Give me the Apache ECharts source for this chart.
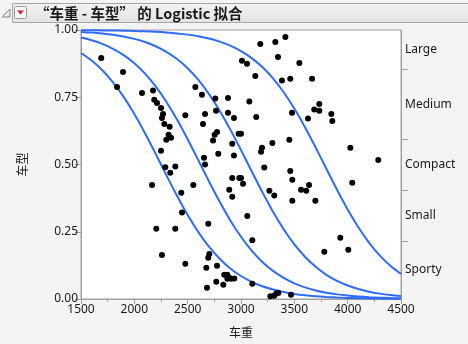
<!DOCTYPE html>
<html><head><meta charset="utf-8">
<script src="https://cdn.jsdelivr.net/npm/echarts@6/dist/echarts.min.js"></script>
<style>html,body{margin:0;padding:0;background:#f4f4f4;}#c{width:468px;height:344px;}</style>
</head><body><div id="c"></div>
<script>
const titleText = '\u201c车重 - 车型\u201d 的 Logistic 拟合';
const xName = '车重';
const yName = '车型';
const xTicks = [1500, 2000, 2500, 3000, 3500, 4000, 4500];
const yTicks = [0, 0.25, 0.5, 0.75, 1];
const categories = ['Sporty', 'Small', 'Compact', 'Medium', 'Large'];
const cumBounds = [0, 0.2165, 0.406, 0.595, 0.854, 1];

const curveX = [1500,1600,1700,1800,1900,2000,2100,2200,2300,2400,2500,2600,2700,2800,2900,3000,3100,3200,3300,3400,3500,3600,3700,3800,3900,4000,4100,4200,4300,4400,4500];
const curve1 = [0.9145,0.8864,0.8504,0.8057,0.7514,0.6878,0.6163,0.5394,0.4606,0.3837,0.3122,0.2486,0.1943,0.1496,0.1136,0.0855,0.0638,0.0473,0.0350,0.0257,0.0189,0.0138,0.0101,0.0074,0.0054,0.0040,0.0029,0.0021,0.0015,0.0011,0.0008];
const curve2 = [0.9718,0.9617,0.9482,0.9302,0.9068,0.8764,0.8379,0.7903,0.7332,0.6671,0.5936,0.5157,0.4371,0.3615,0.2921,0.2313,0.1799,0.1379,0.1044,0.0784,0.0583,0.0432,0.0319,0.0235,0.0172,0.0126,0.0092,0.0067,0.0049,0.0036,0.0026];
const curve3 = [0.9930,0.9904,0.9869,0.9821,0.9757,0.9669,0.9552,0.9395,0.9189,0.8920,0.8576,0.8144,0.7618,0.6999,0.6297,0.5535,0.4748,0.3972,0.3245,0.2594,0.2034,0.1570,0.1195,0.0900,0.0673,0.0500,0.0369,0.0272,0.0200,0.0146,0.0107];
const curve4 = [0.9993,0.9990,0.9986,0.9981,0.9974,0.9964,0.9951,0.9933,0.9908,0.9874,0.9828,0.9765,0.9681,0.9568,0.9417,0.9216,0.8956,0.8621,0.8201,0.7687,0.7079,0.6385,0.5629,0.4843,0.4064,0.3329,0.2668,0.2097,0.1621,0.1236,0.0932];

const points = [
[1690,0.896],[1894,0.844],[1838,0.788],[2072,0.766],[2175,0.775],[2187,0.741],[2213,0.729],[2250,0.710],[2269,0.688],[2259,0.673],
[2281,0.651],[2331,0.640],[2321,0.611],[2344,0.599],[2300,0.592],[2250,0.551],[2290,0.490],[2384,0.493],[2478,0.683],[2572,0.788],
[2634,0.759],[2759,0.745],[2878,0.747],[2663,0.688],[2766,0.700],[2878,0.692],[2934,0.673],[2644,0.651],[2775,0.621],[2753,0.611],
[2738,0.589],[2978,0.614],[3000,0.614],[2918,0.577],[2787,0.540],[2934,0.533],[2653,0.525],[2663,0.500],[3009,0.886],[3056,0.875],
[3181,0.948],[3322,0.955],[3416,0.974],[3347,0.900],[3547,0.877],[3134,0.829],[3384,0.812],[3462,0.819],[3666,0.819],[3078,0.734],
[3143,0.677],[3478,0.692],[3628,0.671],[3687,0.704],[3734,0.725],[3734,0.700],[3847,0.688],[3856,0.662],[3294,0.580],[3453,0.592],
[3197,0.562],[3188,0.547],[4025,0.562],[4287,0.517],[3218,0.489],[2337,0.469],[2166,0.424],[2440,0.395],[2553,0.424],[2447,0.322],
[2206,0.261],[2384,0.261],[2693,0.280],[2259,0.164],[2478,0.131],[2703,0.167],[2693,0.153],[2775,0.124],[2675,0.116],[2843,0.090],
[2872,0.090],[2890,0.079],[2872,0.075],[2909,0.075],[2937,0.076],[2768,0.064],[2834,0.053],[2681,0.042],[2918,0.450],[2984,0.450],
[3000,0.450],[2890,0.406],[2918,0.380],[3019,0.428],[3462,0.476],[3481,0.443],[3638,0.424],[3563,0.406],[3612,0.402],[3266,0.402],
[3312,0.385],[3481,0.365],[3697,0.365],[4043,0.432],[3059,0.309],[3106,0.218],[3931,0.228],[4006,0.183],[3781,0.176],[3106,0.057],
[3275,0.010],[3312,0.012],[3331,0.020],[3350,0.022],[3469,0.016]
];

const FONT = '"Noto Sans", "Noto Sans CJK SC", sans-serif';
const CJK = '"Noto Sans CJK SC", sans-serif';
const AX = '#a0a0a0';
const BLUE = '#2f6cf6';

const bandMids = [];
for (let i = 0; i < categories.length; i++) bandMids.push((cumBounds[i] + cumBounds[i + 1]) / 2);
const innerBounds = cumBounds.slice(1, -1);

function curveData(ys) { return curveX.map((x, i) => [x, ys[i]]); }

const chart = echarts.init(document.getElementById('c'), null, {renderer: 'canvas'});
chart.setOption({
  animation: false,
  backgroundColor: '#f4f4f4',
  grid: {left: 81, top: 30, width: 320, height: 269, show: true, backgroundColor: '#ffffff', borderColor: AX, borderWidth: 1},
  graphic: [
    {type: 'rect', shape: {x: 12.5, y: 3.5, width: 470, height: 19},
      style: {fill: new echarts.graphic.LinearGradient(0, 0, 0, 1, [{offset: 0, color: '#f3f3f3'}, {offset: 1, color: '#e2e2e2'}]), stroke: '#a6a6a6', lineWidth: 1}},
    {type: 'polygon', shape: {points: [[2, 17], [10, 9], [10, 17]]}, style: {fill: '#e8e8e8', stroke: '#8a8a8a', lineWidth: 1}},
    {type: 'rect', shape: {x: 14.5, y: 6.5, width: 12, height: 12, r: 1}, style: {fill: '#f7f7f7', stroke: '#9a9a9a', lineWidth: 1}},
    {type: 'polygon', shape: {points: [[17, 10.5], [24, 10.5], [20.5, 14.5]]}, style: {fill: '#d0202a'}},
    {type: 'text', x: 35, y: 13, style: {text: titleText, font: 'bold 14.5px ' + CJK, fill: '#1a1a1a', textVerticalAlign: 'middle'}}
  ],
  xAxis: {
    type: 'value', min: xTicks[0], max: xTicks[xTicks.length - 1], interval: 500,
    name: xName, nameLocation: 'middle', nameGap: 27,
    nameTextStyle: {fontFamily: CJK, fontSize: 12, color: '#1a1a1a'},
    axisLine: {show: true, lineStyle: {color: AX}},
    axisTick: {show: true, length: 5, lineStyle: {color: AX}},
    minorTick: {show: true, splitNumber: 2, length: 3, lineStyle: {color: AX}},
    axisLabel: {fontFamily: FONT, fontSize: 12, color: '#1a1a1a', margin: 5, formatter: v => String(v)},
    splitLine: {show: false}
  },
  yAxis: [
    {
      type: 'value', min: 0, max: 1, interval: 0.25, position: 'left',
      name: yName, nameLocation: 'middle', nameGap: 53, nameRotate: 90,
      nameTextStyle: {fontFamily: CJK, fontSize: 12, color: '#1a1a1a'},
      axisLine: {show: true, lineStyle: {color: AX}},
      axisTick: {show: true, length: 6, lineStyle: {color: AX}},
      axisLabel: {fontFamily: FONT, fontSize: 12, color: '#1a1a1a', margin: 3, formatter: v => v.toFixed(2)},
      splitLine: {show: false}
    },
    {
      type: 'value', min: 0, max: 1, position: 'right',
      axisLine: {show: true, lineStyle: {color: AX}},
      axisTick: {show: true, length: 7, lineStyle: {color: AX}, customValues: innerBounds},
      axisLabel: {fontFamily: FONT, fontSize: 12, color: '#1a1a1a', margin: 4, customValues: bandMids,
        formatter: v => { let k = 0, d = 9; bandMids.forEach((m, i) => { if (Math.abs(m - v) < d) { d = Math.abs(m - v); k = i; } }); return categories[k]; }},
      splitLine: {show: false}
    }
  ],
  series: [
    ...[curve1, curve2, curve3, curve4].map(c => ({
      type: 'line', data: curveData(c), smooth: 0.3, showSymbol: false,
      lineStyle: {color: BLUE, width: 2}, silent: true, z: 2
    })),
    {type: 'scatter', data: points, symbolSize: 6, itemStyle: {color: '#000', opacity: 1}, z: 3}
  ]
});
</script></body></html>
